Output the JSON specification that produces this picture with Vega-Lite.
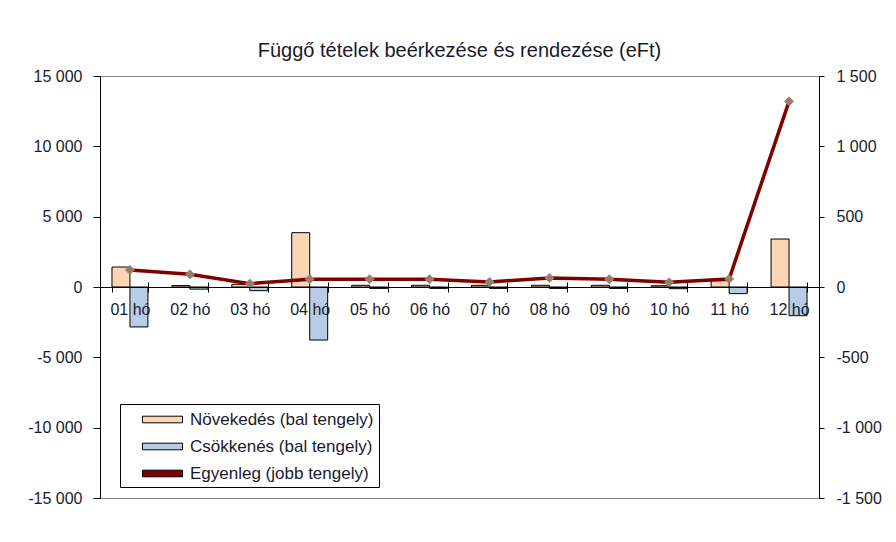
{
  "$schema": "https://vega.github.io/schema/vega-lite/v6.json",
  "width": 719,
  "height": 422,
  "autosize": {"type": "none"},
  "padding": {"left": 100, "top": 76, "right": 77, "bottom": 44},
  "background": "white",
  "title": {
    "text": "Függő tételek beérkezése és rendezése (eFt)",
    "font": "Liberation Sans",
    "fontSize": 20,
    "fontWeight": "normal",
    "color": "#1a1a2e",
    "anchor": "middle",
    "baseline": "alphabetic",
    "offset": -9
  },
  "datasets": {
    "bars": [
      {"month": "01 hó", "series": "Növekedés (bal tengely)", "value": 1420},
      {"month": "01 hó", "series": "Csökkenés (bal tengely)", "value": -2840},
      {"month": "02 hó", "series": "Növekedés (bal tengely)", "value": 100},
      {"month": "02 hó", "series": "Csökkenés (bal tengely)", "value": -150},
      {"month": "03 hó", "series": "Növekedés (bal tengely)", "value": 190},
      {"month": "03 hó", "series": "Csökkenés (bal tengely)", "value": -260},
      {"month": "04 hó", "series": "Növekedés (bal tengely)", "value": 3860},
      {"month": "04 hó", "series": "Csökkenés (bal tengely)", "value": -3770},
      {"month": "05 hó", "series": "Növekedés (bal tengely)", "value": 120},
      {"month": "05 hó", "series": "Csökkenés (bal tengely)", "value": -100},
      {"month": "06 hó", "series": "Növekedés (bal tengely)", "value": 120},
      {"month": "06 hó", "series": "Csökkenés (bal tengely)", "value": -100},
      {"month": "07 hó", "series": "Növekedés (bal tengely)", "value": 120},
      {"month": "07 hó", "series": "Csökkenés (bal tengely)", "value": -100},
      {"month": "08 hó", "series": "Növekedés (bal tengely)", "value": 120},
      {"month": "08 hó", "series": "Csökkenés (bal tengely)", "value": -100},
      {"month": "09 hó", "series": "Növekedés (bal tengely)", "value": 120},
      {"month": "09 hó", "series": "Csökkenés (bal tengely)", "value": -100},
      {"month": "10 hó", "series": "Növekedés (bal tengely)", "value": 90},
      {"month": "10 hó", "series": "Csökkenés (bal tengely)", "value": -120},
      {"month": "11 hó", "series": "Növekedés (bal tengely)", "value": 450},
      {"month": "11 hó", "series": "Csökkenés (bal tengely)", "value": -470},
      {"month": "12 hó", "series": "Növekedés (bal tengely)", "value": 3410},
      {"month": "12 hó", "series": "Csökkenés (bal tengely)", "value": -2040}
    ],
    "line": [
      {"month": "01 hó", "balance": 121},
      {"month": "02 hó", "balance": 90},
      {"month": "03 hó", "balance": 24},
      {"month": "04 hó", "balance": 55},
      {"month": "05 hó", "balance": 55},
      {"month": "06 hó", "balance": 55},
      {"month": "07 hó", "balance": 36},
      {"month": "08 hó", "balance": 64},
      {"month": "09 hó", "balance": 55},
      {"month": "10 hó", "balance": 33},
      {"month": "11 hó", "balance": 57},
      {"month": "12 hó", "balance": 1320}
    ]
  },
  "layer": [
    {
      "data": {"name": "bars"},
      "mark": {"type": "bar", "stroke": "black", "strokeWidth": 1},
      "encoding": {
        "x": {
          "field": "month",
          "type": "nominal",
          "sort": null,
          "scale": {
            "domain": ["01 hó", "02 hó", "03 hó", "04 hó", "05 hó", "06 hó", "07 hó", "08 hó", "09 hó", "10 hó", "11 hó", "12 hó"],
            "paddingInner": 0.4,
            "paddingOuter": 0.2
          },
          "axis": {
            "orient": "bottom",
            "offset": -211,
            "title": null,
            "labelAngle": 0,
            "tickBand": "extent",
            "tickSize": 5,
            "labelPadding": 9,
            "zindex": 1
          }
        },
        "xOffset": {
          "field": "series",
          "type": "nominal",
          "sort": ["Növekedés (bal tengely)", "Csökkenés (bal tengely)"],
          "scale": {"paddingInner": 0, "paddingOuter": 0}
        },
        "y": {
          "field": "value",
          "type": "quantitative",
          "scale": {"domain": [-15000, 15000], "nice": false},
          "axis": {
            "orient": "left",
            "title": null,
            "values": [-15000, -10000, -5000, 0, 5000, 10000, 15000],
            "labelExpr": "replace(replace(format(datum.value, ','), ',', ' '), '−', '-')",
            "tickSize": 7,
            "labelPadding": 11
          }
        },
        "fill": {
          "field": "series",
          "type": "nominal",
          "scale": {
            "domain": ["Növekedés (bal tengely)", "Csökkenés (bal tengely)", "Egyenleg (jobb tengely)"],
            "range": ["#FCD5B4", "#B8CCE4", "#800000"]
          },
          "legend": {
            "title": null,
            "orient": "none",
            "legendX": 20,
            "legendY": 328,
            "direction": "vertical",
            "strokeColor": "black",
            "fillColor": "white",
            "padding": 5,
            "symbolOffset": 17,
            "symbolSize": 400,
            "symbolType": "M-1,-0.33H3V0.33H-1Z",
            "symbolStrokeColor": "black",
            "symbolStrokeWidth": 1,
            "labelOffset": 27,
            "labelFont": "Liberation Sans",
            "labelFontSize": 17,
            "labelColor": "#1a1a2e",
            "labelLimit": 400,
            "rowPadding": 8
          }
        }
      }
    },
    {
      "data": {"name": "line"},
      "mark": {
        "type": "line",
        "color": "#800000",
        "strokeWidth": 3.5,
        "point": {"shape": "diamond", "filled": true, "fill": "#8C8462", "stroke": "#B0708A", "strokeWidth": 1, "size": 80, "opacity": 1}
      },
      "encoding": {
        "x": {
          "field": "month",
          "type": "nominal",
          "sort": null,
          "axis": {
            "orient": "top",
            "offset": -211,
            "title": null,
            "labels": false,
            "domain": false,
            "tickBand": "extent",
            "tickSize": 5
          }
        },
        "y": {
          "field": "balance",
          "type": "quantitative",
          "scale": {"domain": [-1500, 1500], "nice": false},
          "axis": {
            "orient": "right",
            "title": null,
            "values": [-1500, -1000, -500, 0, 500, 1000, 1500],
            "labelExpr": "replace(replace(format(datum.value, ','), ',', ' '), '−', '-')",
            "tickSize": 5,
            "labelPadding": 12
          }
        }
      }
    }
  ],
  "resolve": {"scale": {"y": "independent"}, "axis": {"x": "independent"}},
  "config": {
    "view": {"stroke": "#808080", "strokeWidth": 1},
    "axis": {
      "labelFont": "Liberation Sans",
      "labelFontSize": 16,
      "labelColor": "#1a1a2e",
      "grid": false,
      "domainColor": "black",
      "tickColor": "black",
      "domainWidth": 1,
      "tickWidth": 1
    }
  }
}
